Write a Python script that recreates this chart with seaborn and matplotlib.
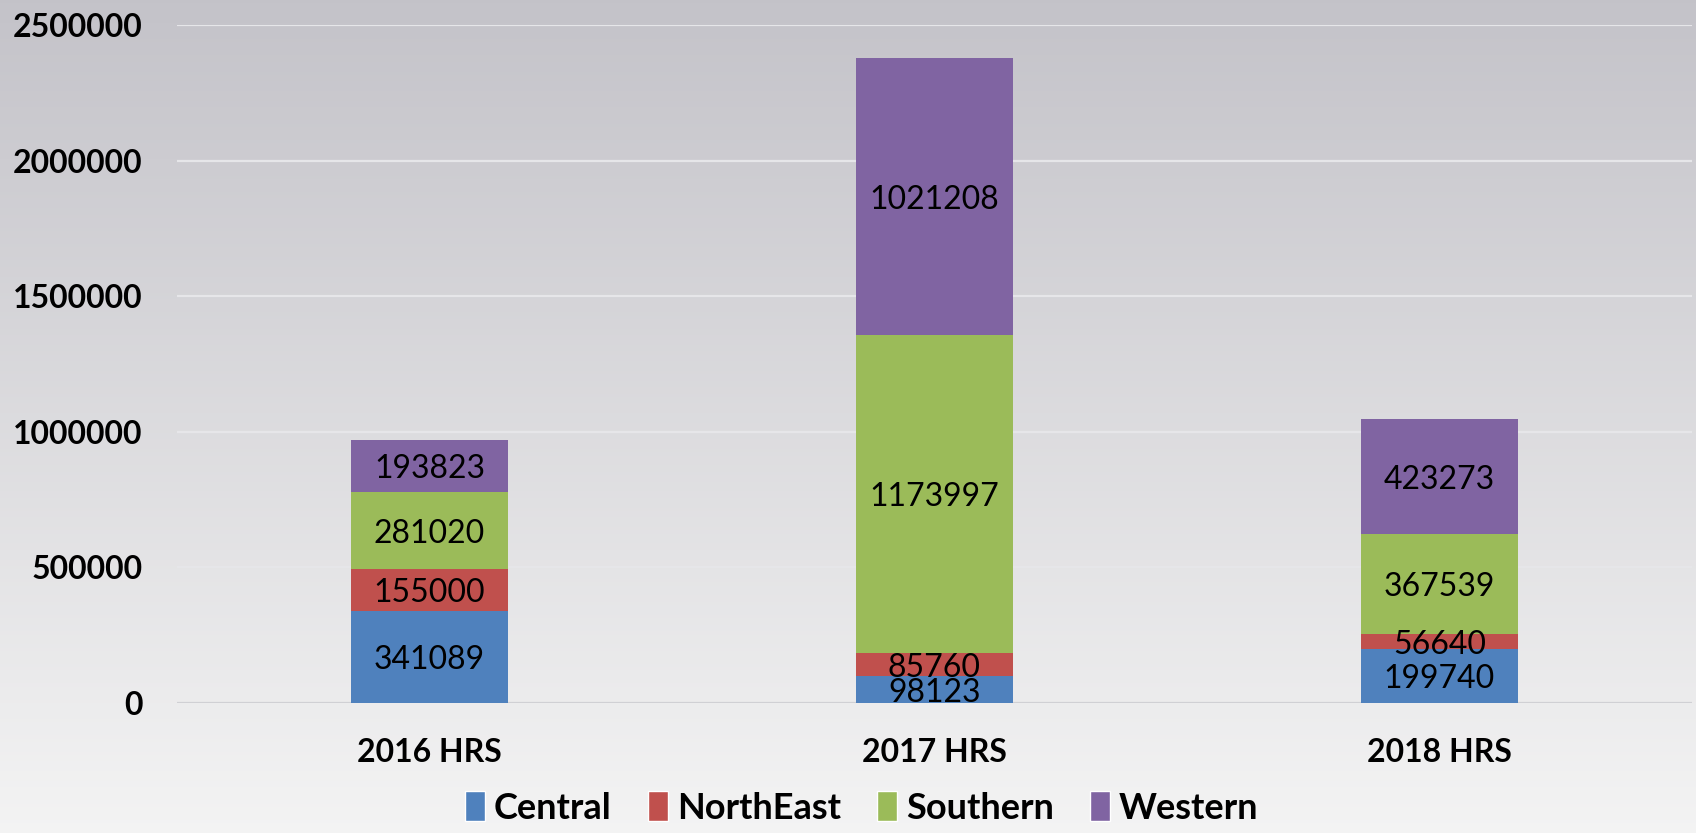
import numpy as np
import pandas as pd
import matplotlib
matplotlib.use("Agg")
import matplotlib.pyplot as plt
from matplotlib.patches import Patch
import seaborn as sns

# data
periods = ["2016 HRS", "2017 HRS", "2018 HRS"]
regions = ["Central", "NorthEast", "Southern", "Western"]
central = [341089, 98123, 199740]
northeast = [155000, 85760, 56640]
southern = [281020, 1173997, 367539]
western = [193823, 1021208, 423273]
yticks = [0, 500000, 1000000, 1500000, 2000000, 2500000]

colors = ["#4F81BD", "#C0504D", "#9BBB59", "#8064A2"]

sns.set_theme(style="white")
plt.rcParams["font.family"] = ["Lato", "DejaVu Sans"]
plt.rcParams["text.color"] = "black"

data = pd.DataFrame({"period": periods, "Central": central, "NorthEast": northeast,
                     "Southern": southern, "Western": western})
cum = data[regions].cumsum(axis=1)

fig = plt.figure(figsize=(16.96, 8.33), dpi=100)

# gradient background
bg = fig.add_axes([0, 0, 1, 1], zorder=0)
top = np.array([0.768, 0.764, 0.788])
bot = np.array([0.955, 0.955, 0.955])
t = np.linspace(0, 1, 256)[:, None]
grad = top + (bot - top) * t
bg.imshow(grad[:, None, :], aspect="auto", extent=[0, 1, 0, 1])
bg.axis("off")

ax = fig.add_axes([0.1044, 0.156, 0.8932, 0.814], zorder=1)
ax.patch.set_alpha(0)

# stacked bars: draw cumulative totals from the top series down
for reg, col in zip(regions[::-1], colors[::-1]):
    sns.barplot(x=data["period"], y=cum[reg], color=col, width=0.31,
                saturation=1, linewidth=0, ax=ax, zorder=3)

# segment labels
for i in range(len(periods)):
    base = 0
    for reg in regions:
        v = data[reg][i]
        ax.annotate(str(v), (i, base + v / 2), xytext=(0, -2.5),
                    textcoords="offset points", ha="center", va="center",
                    fontsize=23, color="black", zorder=4)
        base += v

ax.set_ylim(0, 2500000)
ax.set_yticks(yticks)
ax.set_yticklabels([str(v) for v in yticks], fontsize=23, fontweight="bold")
ax.set_xticks(range(len(periods)))
ax.set_xticklabels(periods, fontsize=23, fontweight="bold")
ax.set_xlabel("")
ax.set_ylabel("")
ax.tick_params(axis="both", length=0, pad=25, labelcolor="black")
for y in yticks[1:]:
    ax.axhline(y, color="#e6e6e9", lw=1.6, zorder=1)
ax.axhline(0, color="#d0d0d4", lw=1.6, zorder=2)
for s in ax.spines.values():
    s.set_visible(False)

handles = [Patch(facecolor=c, label=r) for r, c in zip(regions, colors)]
leg = fig.legend(handles=handles, loc="lower center", bbox_to_anchor=(0.508, -0.012),
                 ncol=4, frameon=False, handlelength=0.55, handleheight=0.9,
                 handletextpad=0.25, columnspacing=1.0, borderpad=0.0,
                 prop={"size": 26, "weight": "bold"})

fig.savefig("out.png", dpi=100)
